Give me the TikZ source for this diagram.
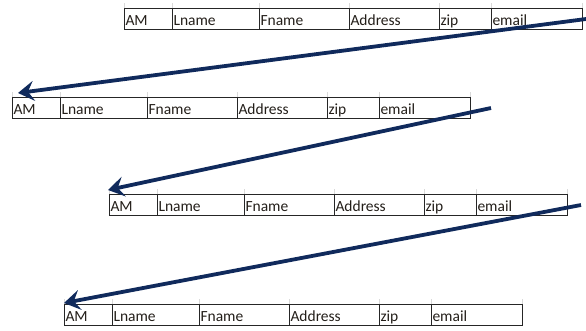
\documentclass[tikz,border=0pt]{standalone}
\usepackage{fontspec}
\setmainfont{Carlito}
\usepackage{tikz}
\usetikzlibrary{arrows.meta}

\definecolor{navyarrow}{RGB}{16,42,92}
\definecolor{celltext}{RGB}{35,30,25}

\tikzset{
  cell/.style={draw=black!85, line width=0.9pt, inner sep=0pt, outer sep=0pt,
    minimum height=21pt, anchor=north west, text=celltext,
    font=\fontsize{15.5pt}{17pt}\selectfont, align=left,
    text height=15pt, text depth=1pt,
    text width=#1pt-3pt, minimum width=#1pt, inner xsep=1.5pt},
  gridtick/.style={draw=black!15, line width=0.8pt},
  arrowline/.style={draw=navyarrow, line width=3.8pt,
    -{Stealth[length=16pt, width=20pt, inset=6pt]}},
}

% one row of fields: name, left x, top y
\newcommand{\fieldrow}[3]{%
  \foreach \lbl/\w/\off [count=\i] in {AM/48/0, Lname/87/48, Fname/90/135,
      Address/90/225, zip/52/315, email/91/367}{
    \node[cell=\w] (#1-\i) at (#2+\off, #3) {\lbl};
    \draw[gridtick] (#1-\i.north west) -- ++(0,-5);
  }
  \draw[gridtick] (#1-6.north east) -- ++(0,-5);
}

\begin{document}
\begin{tikzpicture}[x=1pt, y=-1pt]
    \useasboundingbox (0,0) rectangle (586,330);

%rows
    \fieldrow{r1}{124}{8}
    \fieldrow{r2}{12}{97}
    \fieldrow{r3}{109}{194}
    \fieldrow{r4}{64}{304}

%arrow start points
    \coordinate (s1) at (586, 19);
    \coordinate (s2) at (491, 108);
    \coordinate (s3) at (581, 205);

    \draw[arrowline] (s1) -- ([shift={(6,-4)}]r2-1.north west);
    \draw[arrowline] (s2) -- ([shift={(-1,-4)}]r3-1.north west);
    \draw[arrowline] (s3) -- ([shift={(0,-1)}]r4-1.north west);

\end{tikzpicture}
\end{document}
